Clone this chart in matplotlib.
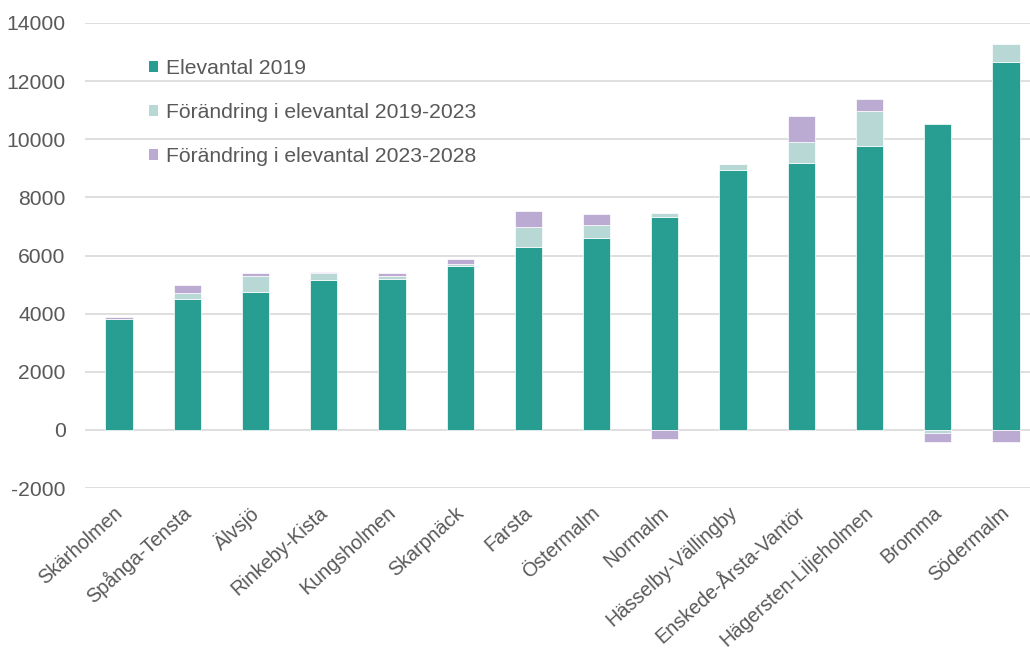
import matplotlib
matplotlib.use("Agg")
import matplotlib.pyplot as plt
import matplotlib.transforms as mtransforms
import numpy as np
from matplotlib.patches import Patch

plt.rcParams['font.family'] = ['Liberation Sans', 'DejaVu Sans']
plt.rcParams['axes.unicode_minus'] = False

districts = ["Skärholmen", "Spånga-Tensta", "Älvsjö", "Rinkeby-Kista", "Kungsholmen",
             "Skarpnäck", "Farsta", "Östermalm", "Normalm", "Hässelby-Vällingby",
             "Enskede-Årsta-Vantör", "Hägersten-Liljeholmen", "Bromma", "Södermalm"]
elevantal_2019 = [3810, 4520, 4750, 5140, 5205, 5650, 6300, 6595, 7340, 8935, 9200, 9780, 10515, 12660]
change_2019_2023 = [20, 190, 560, 250, 100, 50, 690, 455, 125, 215, 710, 1190, -100, 620]
change_2023_2028 = [70, 265, 90, 45, 90, 180, 550, 370, -300, 0, 905, 425, -310, -400]

series = [
    ("Elevantal 2019", elevantal_2019, "#289E92"),
    ("Förändring i elevantal 2019-2023", change_2019_2023, "#B7D8D4"),
    ("Förändring i elevantal 2023-2028", change_2023_2028, "#BBAAD2"),
]
text_color = "#595959"

fig = plt.figure(figsize=(10.30, 6.50), dpi=100)
ax = fig.add_axes([85 / 1030, 162 / 650, 955 / 1030, 465 / 650])

x = np.arange(len(districts))
pos_base = np.zeros(len(districts))
neg_base = np.zeros(len(districts))
for label, vals, color in series:
    v = np.array(vals, dtype=float)
    bottom = np.where(v >= 0, pos_base, neg_base)
    ax.bar(x, v, width=0.4, bottom=bottom, color=color, edgecolor="white",
           linewidth=0.5, label=label, zorder=3)
    pos_base += np.where(v >= 0, v, 0)
    neg_base += np.where(v < 0, v, 0)

ax.set_xlim(-0.5, len(districts) - 0.5)
ax.set_ylim(-2000, 14000)
ax.set_yticks(np.arange(-2000, 14001, 2000))
ax.yaxis.grid(True, color="#D9D9D9", linewidth=1.2, zorder=0)
ax.set_axisbelow(True)
for s in ax.spines.values():
    s.set_visible(False)
ax.tick_params(axis="both", length=0, labelcolor=text_color)
ax.tick_params(axis="y", pad=14, labelsize=15.2)
ax.set_xticks(x)
ax.set_xticklabels(districts, rotation=42, ha="right", va="center",
                   rotation_mode="anchor")
ax.tick_params(axis="x", pad=16, labelsize=14.2)
shift = mtransforms.ScaledTranslation(1 / 100, 0, fig.dpi_scale_trans)
for lbl in ax.get_xticklabels():
    lbl.set_transform(lbl.get_transform() + shift)

handles = [Patch(facecolor=c, edgecolor="none", label=l) for l, _, c in series]
leg = ax.legend(handles=handles, loc="upper left", bbox_to_anchor=(0.058, 0.94),
                frameon=False, fontsize=15.2, handlelength=0.45, handleheight=0.45,
                handletextpad=0.35, labelspacing=1.18, borderaxespad=0)
for t in leg.get_texts():
    t.set_color(text_color)

fig.savefig("out.png", dpi=100, facecolor="white")
